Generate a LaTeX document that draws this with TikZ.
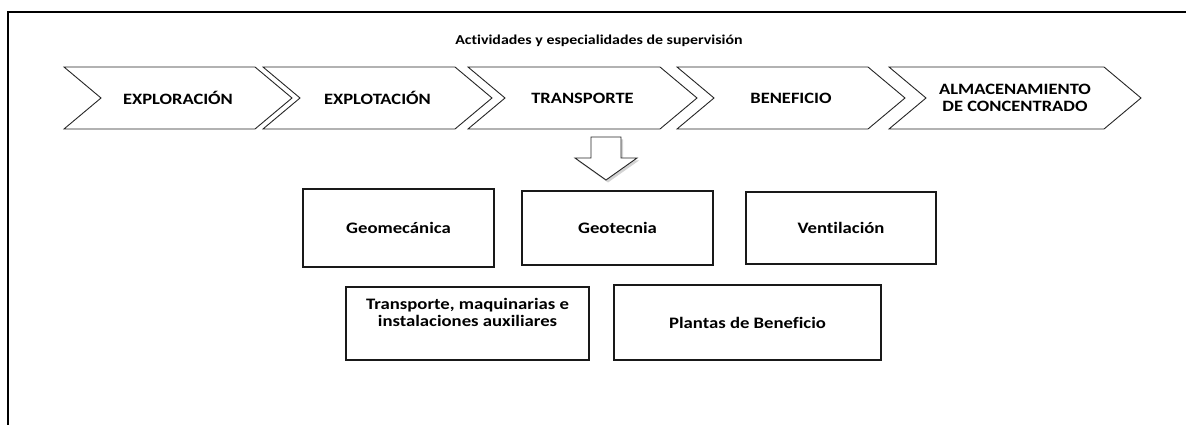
\documentclass[tikz,border=0pt]{standalone}
\usepackage{fontspec}
\setmainfont{Carlito}[FakeStretch=1.17,Ligatures=NoCommon]
\usepackage{tikz}
\usetikzlibrary{shadows}
\tikzset{marco/.style={line width=2.4pt},
    etapa/.style={draw=black!85,line width=0.9pt,fill=white,line join=miter},
    etiqueta/.style={font=\bfseries\fontsize{15.8}{17}\selectfont,align=center},
    especialidad/.style={draw=black!90,line width=1.1pt,fill=white,inner sep=0pt,
        font=\bfseries\fontsize{16}{17}\selectfont,align=center},
    bajada/.style={draw=black!85,line width=0.9pt,fill=white,
        drop shadow={shadow xshift=2pt,shadow yshift=-2.5pt,opacity=.35}}}
\newcommand{\etapa}[4]{%
    \draw[etapa] (#1,67) -- ({#2-37},67) -- (#2,98) -- ({#2-37},129)
        -- (#1,129) -- ({#1+37},98) -- cycle;
    \node[etiqueta] (#3) at ({(#1+#2)/2},98) {#4};}

\begin{document}
\begin{tikzpicture}[x=1pt,y=-1pt]
    \useasboundingbox (0,0) rectangle (1186,425);
    \draw[marco] (8,425) -- (8,12) -- (1186,12);
    \node[font=\bfseries\fontsize{13.6}{15}\selectfont] (titulo) at (599,41)
        {Actividades y especialidades de supervisión};
    \etapa{64}{292}{exploracion}{EXPLORACIÓN}
    \etapa{263}{492}{explotacion}{EXPLOTACIÓN}
    \etapa{468}{697}{transporte}{TRANSPORTE}
    \etapa{677}{905}{beneficio}{BENEFICIO}
    \etapa{889}{1141}{almacenamiento}{ALMACENAMIENTO\\DE CONCENTRADO}
    \draw[bajada] (591,137) -- (621,137) -- (621,158) -- (637,158) -- (606,180)
        -- (575,158) -- (591,158) -- cycle;
    \node[especialidad,minimum width=191pt,minimum height=78pt] (geomecanica)
        at (398.5,228) {Geomecánica};
    \node[especialidad,minimum width=191pt,minimum height=74pt] (geotecnia)
        at (617.5,228) {Geotecnia};
    \node[especialidad,minimum width=190pt,minimum height=72pt] (ventilacion)
        at (841,228) {Ventilación};
    \node[especialidad,minimum width=243pt,minimum height=73pt] (maquinarias)
        at (467.5,323.5) {Transporte, maquinarias e\\instalaciones auxiliares\\\strut};
    \node[especialidad,minimum width=267pt,minimum height=75pt] (plantas)
        at (747.5,322.5) {Plantas de Beneficio};
\end{tikzpicture}
\end{document}
